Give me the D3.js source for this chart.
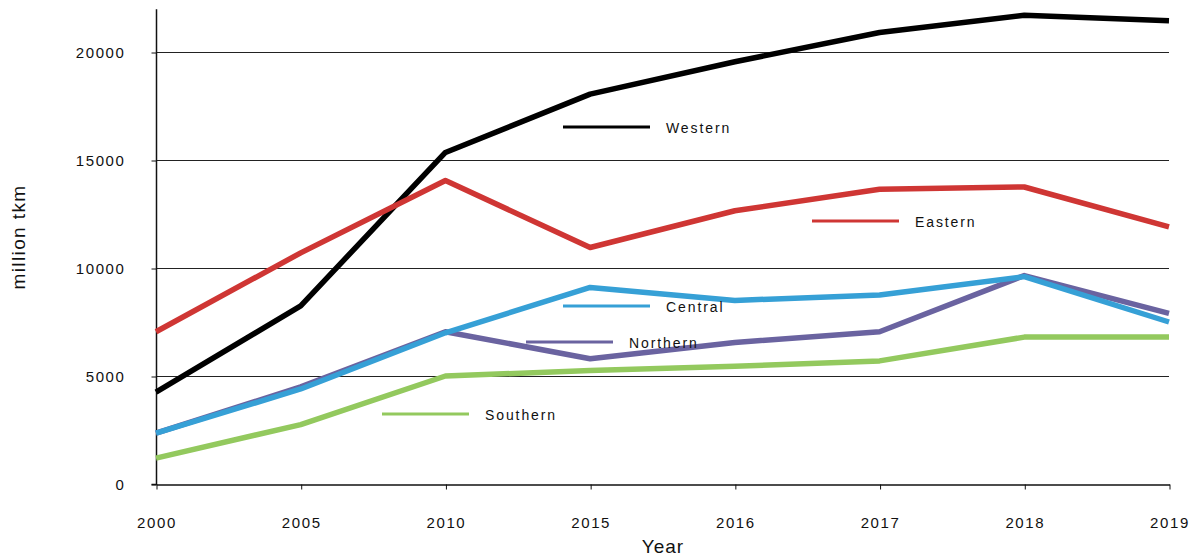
<!DOCTYPE html>
<html>
<head>
<meta charset="utf-8">
<script src="https://cdn.jsdelivr.net/npm/d3@7"></script>
<style>
  body { margin: 0; background: #fff; }
  text { font-family: "Liberation Sans", Arial, sans-serif; fill: #111; }
</style>
</head>
<body>
<div id="chart"></div>
<script>
// categories on the x axis
var years = ["2000", "2005", "2010", "2015", "2016", "2017", "2018", "2019"];
var yTicks = [0, 5000, 10000, 15000, 20000];

// series values, million tkm
var western  = [4250, 8250, 15350, 18050, 19550, 20900, 21700, 21450];
var eastern  = [7050, 10700, 14050, 10950, 12650, 13650, 13750, 11900];
var northern = [2350, 4500, 7050, 5800, 6550, 7050, 9650, 7900];
var central  = [2350, 4400, 7000, 9100, 8500, 8750, 9600, 7500];
var southern = [1200, 2750, 5000, 5250, 5450, 5700, 6800, 6800];

var seriesNames = ["Western", "Eastern", "Northern", "Central", "Southern"];
var colors = ["#000000", "#cf3634", "#6a63a0", "#36a0d6", "#93c95e"];

// legend placement (in the plot, next to lines)
var legendPos = {
  Western:  [563, 127],
  Eastern:  [812, 221],
  Northern: [526, 342],
  Central:  [563, 306],
  Southern: [382, 414]
};

var series = [western, eastern, northern, central, southern];

var width = 1197, height = 557;
var svg = d3.select("#chart").append("svg")
  .attr("width", width)
  .attr("height", height);

var x = d3.scalePoint()
  .domain(years)
  .range([156, 1169]);

var y = d3.scaleLinear()
  .domain([0, 22000])
  .range([484, 484 - 22000 * 0.0216]);

// gridlines
svg.append("g")
  .selectAll("line")
  .data(yTicks.slice(1))
  .enter()
  .append("line")
    .attr("x1", 156)
    .attr("x2", 1169)
    .attr("y1", function(d) { return y(d) + 0.5; })
    .attr("y2", function(d) { return y(d) + 0.5; })
    .attr("stroke", "#222")
    .attr("stroke-width", 1.2);

// y axis
var yAxis = svg.append("g")
  .attr("transform", "translate(156.5,0.5)")
  .call(d3.axisLeft(y).tickValues(yTicks).tickFormat(d3.format("d")).tickSize(5).tickPadding(26));
yAxis.select(".domain").attr("d", "M-5," + y(0) + "H0V" + y(22000)).attr("stroke", "#111").attr("stroke-width", 1.5);
yAxis.selectAll("text")
  .style("font-size", "15px")
  .style("letter-spacing", "1.6px")
  .attr("fill", "#111");
yAxis.selectAll("line").attr("stroke", "#111");

// x axis
var xAxis = svg.append("g")
  .attr("transform", "translate(0.5," + (y(0) + 0.5) + ")")
  .call(d3.axisBottom(x).tickSize(5).tickPadding(28).tickSizeOuter(0));
xAxis.select(".domain").attr("stroke", "#111").attr("stroke-width", 1.5);
xAxis.selectAll("text")
  .style("font-size", "15px")
  .style("letter-spacing", "1.6px")
  .attr("fill", "#111");
xAxis.selectAll("line").attr("stroke", "#111");

// axis titles
svg.append("text")
  .attr("transform", "translate(25,237) rotate(-90)")
  .style("text-anchor", "middle")
  .style("font-size", "19px")
  .style("letter-spacing", "1.4px")
  .text("million tkm");

svg.append("text")
  .attr("x", 663)
  .attr("y", 553)
  .style("text-anchor", "middle")
  .style("font-size", "19px")
  .style("letter-spacing", "1px")
  .text("Year");

// lines
var line = d3.line()
  .x(function(d, i) { return x(years[i]); })
  .y(function(d) { return y(d); });

series.forEach(function(values, i) {
  svg.append("path")
    .datum(values)
    .attr("fill", "none")
    .attr("stroke", colors[i])
    .attr("stroke-width", 5.5)
    .attr("stroke-linejoin", "round")
    .attr("d", line);
});

// legend items
seriesNames.forEach(function(name, i) {
  var p = legendPos[name];
  svg.append("line")
    .attr("x1", p[0])
    .attr("x2", p[0] + 87)
    .attr("y1", p[1])
    .attr("y2", p[1])
    .attr("stroke", colors[i])
    .attr("stroke-width", 3);
  svg.append("text")
    .attr("x", p[0] + 103)
    .attr("y", p[1] + 6)
    .style("font-size", "14px")
    .style("letter-spacing", "1.9px")
    .text(name);
});
</script>
</body>
</html>
